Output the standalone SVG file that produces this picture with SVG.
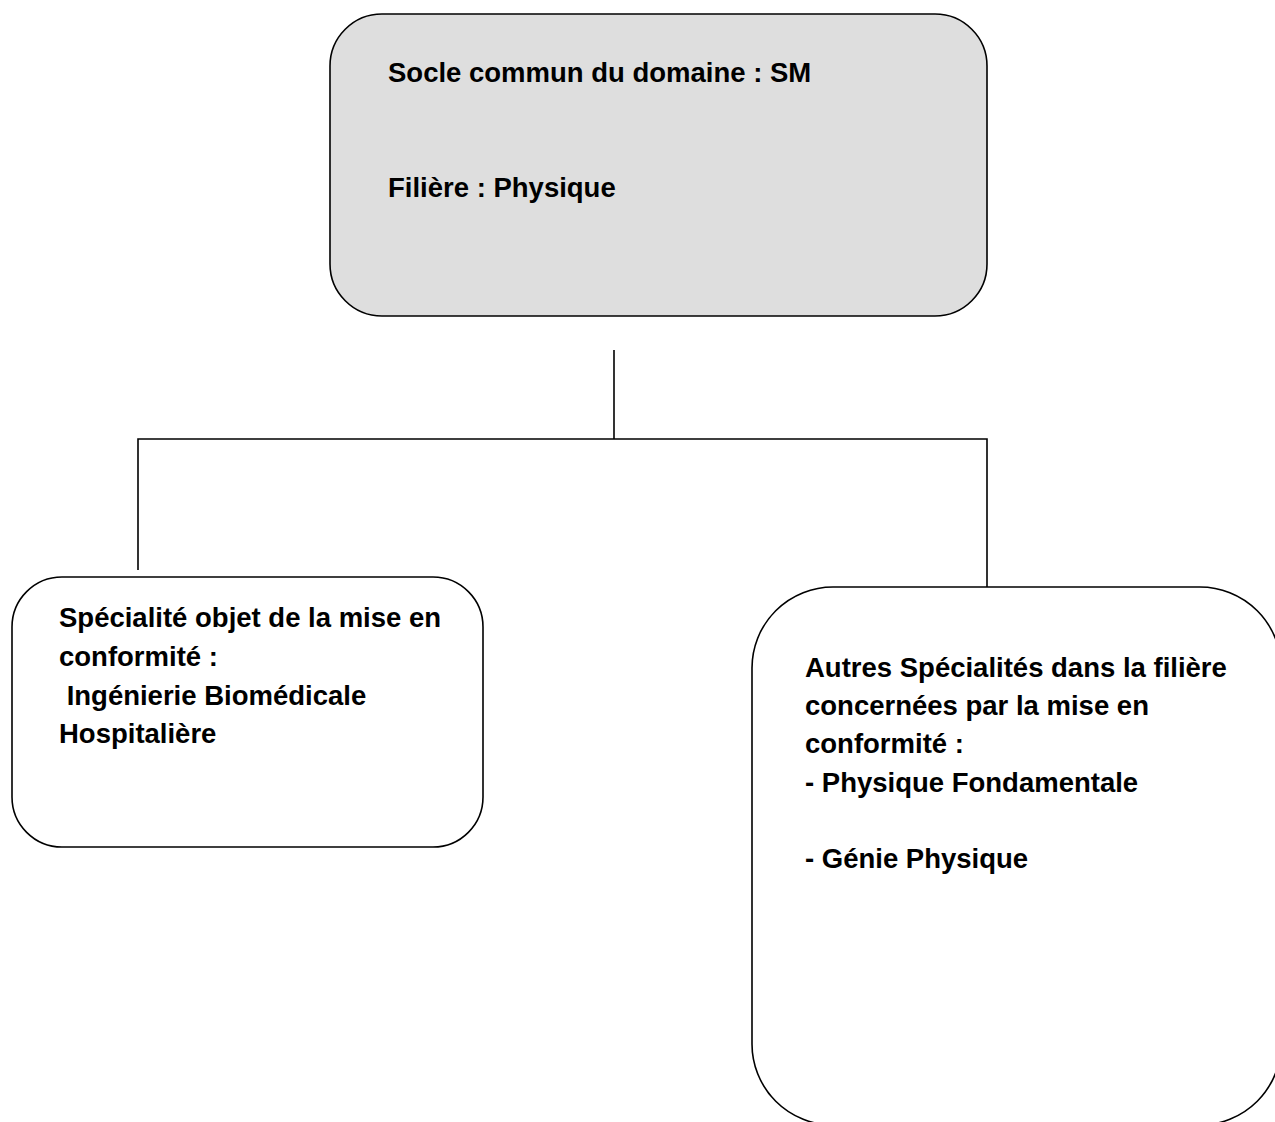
<svg xmlns="http://www.w3.org/2000/svg" width="1275" height="1122" viewBox="0 0 1275 1122">
<style>
  .box { fill: #ffffff; stroke: #000000; stroke-width: 1.6; }
  .gray { fill: #dedede; }
  .lbl { font-family: "Liberation Sans", Arial, sans-serif; font-weight: bold; font-size: 27.5px; fill: #000000; }
  .conn { fill: none; stroke: #000000; stroke-width: 1.6; }
</style>
<rect x="0" y="0" width="1275" height="1122" fill="#ffffff"/>
<g id="connectors">
  <line class="conn" x1="614" y1="350" x2="614" y2="439"/>
  <polyline class="conn" points="138,570 138,439 987,439 987,587"/>
</g>
<g id="node-socle">
  <rect class="box gray" x="330" y="14" width="657" height="302" rx="52" ry="52"/>
  <text class="lbl" x="388" y="82">Socle commun du domaine : SM</text>
  <text class="lbl" x="388" y="197">Filière : Physique</text>
</g>
<g id="node-specialite">
  <rect class="box" x="12" y="577" width="471" height="270" rx="50" ry="50"/>
  <text class="lbl" x="59" y="627">Spécialité objet de la mise en</text>
  <text class="lbl" x="59" y="666">conformité :</text>
  <text class="lbl" x="59" y="705" xml:space="preserve"> Ingénierie Biomédicale</text>
  <text class="lbl" x="59" y="743">Hospitalière</text>
</g>
<g id="node-autres">
  <rect class="box" x="752" y="587" width="529" height="538" rx="81" ry="81"/>
  <text class="lbl" x="805" y="677">Autres Spécialités dans la filière</text>
  <text class="lbl" x="805" y="715">concernées par la mise en</text>
  <text class="lbl" x="805" y="753">conformité :</text>
  <text class="lbl" x="805" y="792">- Physique Fondamentale</text>
  <text class="lbl" x="805" y="868">- Génie Physique</text>
</g>
</svg>
